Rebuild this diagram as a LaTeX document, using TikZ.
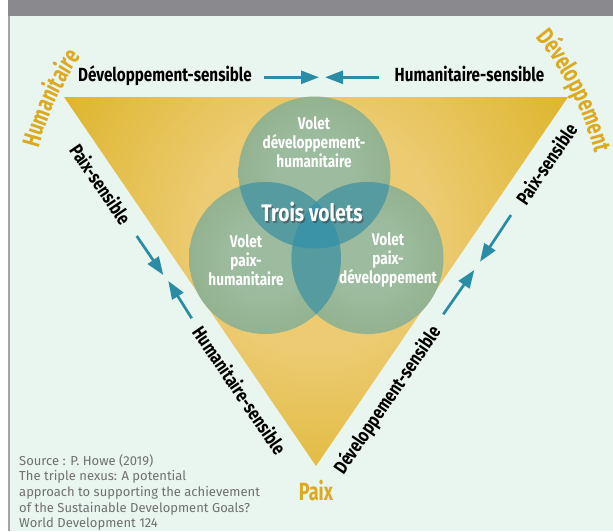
\documentclass[tikz,border=0pt]{standalone}
\usepackage{fontspec}
\setmainfont{Fira Sans}
\newfontfamily\condfont[FakeStretch=0.8]{Fira Sans}
\newfontfamily\goldfont[FakeStretch=0.72]{Fira Sans}
\newfontfamily\srcfont{Fira Sans}
\usetikzlibrary{decorations.text,arrows.meta}
\definecolor{mint}{HTML}{E9F5EF}
\definecolor{band}{HTML}{8A898E}
\definecolor{framegray}{HTML}{A3A3A3}
\definecolor{goldA}{HTML}{D8AD12}
\definecolor{goldB}{HTML}{ECCB72}
\definecolor{goldtxt}{HTML}{DCAA1E}
\definecolor{greenA}{HTML}{7FA174}
\definecolor{greenB}{HTML}{9DBB9E}
\definecolor{tealA}{HTML}{559BA0}
\definecolor{tealB}{HTML}{3B93A8}
\definecolor{arrowteal}{HTML}{2A8CA5}
\definecolor{srcgray}{HTML}{707070}
\pgfdeclareradialshading{goldglow}{\pgfpoint{0bp}{0bp}}{color(0bp)=(goldB); color(7bp)=(goldB); color(21bp)=(goldA); color(50bp)=(goldA)}
\pgfdeclareradialshading{greenball}{\pgfpoint{0bp}{0bp}}{color(0bp)=(greenB); color(12bp)=(greenB); color(50bp)=(greenA)}
\tikzset{
  blk/.style={font=\condfont\bfseries\fontsize{19}{19}\selectfont, text=black, inner sep=0pt},
  edgelbl/.style={blk, text depth=0pt},
  goldlbl/.style={font=\goldfont\bfseries\fontsize{25}{25}\selectfont, text=goldtxt, inner sep=0pt},
  voletlbl/.style={font=\condfont\bfseries\fontsize{17}{19}\selectfont, text=white, align=center, inner sep=0pt},
  trois/.style={font=\condfont\bfseries\fontsize{24}{24}\selectfont, inner sep=0pt},
  arr/.style={draw=arrowteal, line width=2.7pt, -{Triangle[length=18pt,width=13pt]}},
  srcstyle/.style={font=\srcfont\fontsize{13}{15.7}\selectfont, text=srcgray, align=left, inner sep=0pt},
}
\begin{document}
\begin{tikzpicture}[x=1pt,y=-1pt]
\useasboundingbox (0,0) rectangle (613,531);
% background and frame
\fill[white] (0,0) rectangle (613,531);
\fill[mint] (9,16) rectangle (613,531);
\fill[band] (8,0) rectangle (613,16);
\draw[framegray, line width=1.5pt] (9,16) -- (9,531);

% triangle
\coordinate (A) at (64,97);
\coordinate (B) at (568,97);
\coordinate (C) at (316,466);
\begin{scope}
  \clip (A) -- (B) -- (C) -- cycle;
  \shade[shading=goldglow] (-104,-185) rectangle (736,655);
\end{scope}

% circles
\coordinate (T) at (314.5,172.5);
\coordinate (L) at (265,258);
\coordinate (R) at (367.5,258);
\shade[shading=greenball] (T) circle (76);
\shade[shading=greenball] (L) circle (76);
\shade[shading=greenball] (R) circle (76);
\begin{scope}
  \clip (T) circle (76);
  \fill[tealA] (L) circle (76);
  \fill[tealA] (R) circle (76);
\end{scope}
\begin{scope}
  \clip (L) circle (76);
  \fill[tealA] (R) circle (76);
\end{scope}
\begin{scope}
  \clip (T) circle (76);
  \clip (L) circle (76);
  \fill[tealB] (R) circle (76);
\end{scope}

% circle texts
\node[voletlbl] (vdh) at (314,142.5) {Volet\\développement-\\humanitaire};
\node[voletlbl] (vph) at (246,260) {Volet\\paix-\\humanitaire};
\node[voletlbl] (vpd) at (388,260) {Volet\\paix-\\développement};
\node[trois, text=black!75, opacity=0.55] (tvs) at (313.5,213.5) {Trois volets};
\node[trois, text=white] (tv) at (312,212) {Trois volets};

% top labels and arrows
\node[blk, anchor=base] (ds) at (165,81.7) {Développement-sensible};
\node[blk, anchor=base] (hs) at (469.5,81.7) {Humanitaire-sensible};
\coordinate (ta1) at (264,77.3);
\coordinate (ta2) at (319,77.3);
\coordinate (tb1) at (379,77.3);
\coordinate (tb2) at (325,77.3);
\draw[arr] (ta1) -- (ta2);
\draw[arr] (tb1) -- (tb2);

% left side
\node[edgelbl, rotate=-55.7] (lps) at (101,184) {Paix-sensible};
\node[edgelbl, rotate=-55.7] (lhs) at (240,390) {Humanitaire-sensible};
\coordinate (la1) at (136.7,236);
\coordinate (la2) at (163.3,275);
\coordinate (lb1) at (191.7,318.3);
\coordinate (lb2) at (168.3,281);
\draw[arr] (la1) -- (la2);
\draw[arr] (lb1) -- (lb2);

% right side
\node[edgelbl, rotate=55.7] (rps) at (546,163.5) {Paix-sensible};
\node[edgelbl, rotate=55.7] (rds) at (386,399) {Développement-sensible};
\coordinate (ra1) at (511,215);
\coordinate (ra2) at (480,261.7);
\coordinate (rb1) at (443.3,314.3);
\coordinate (rb2) at (474.3,270);
\draw[arr] (ra1) -- (ra2);
\draw[arr] (rb1) -- (rb2);

% gold corner labels
\coordinate (hstart) at (29,222);
\coordinate (dstart) at (500.5,2.1);
\path[decorate, decoration={text along path, text align=center,
  text={|\goldfont\bfseries\fontsize{25}{25}\selectfont\color{goldtxt}|Humanitaire}}]
  (hstart) arc[start angle=180, end angle=130, radius=287pt];
\path[decorate, decoration={text along path, text align=center,
  text={|\goldfont\bfseries\fontsize{25}{25}\selectfont\color{goldtxt}|Développement}}]
  (dstart) arc[start angle=50, end angle=4, radius=287pt];
\node[goldlbl, anchor=base] (paix) at (316,500) {Paix};

% source
\node[srcstyle, anchor=north west] (src) at (19,454) {Source : P. Howe (2019)\\The triple nexus: A potential\\approach to supporting the achievement\\of the Sustainable Development Goals?\\World Development 124};
\end{tikzpicture}
\end{document}
